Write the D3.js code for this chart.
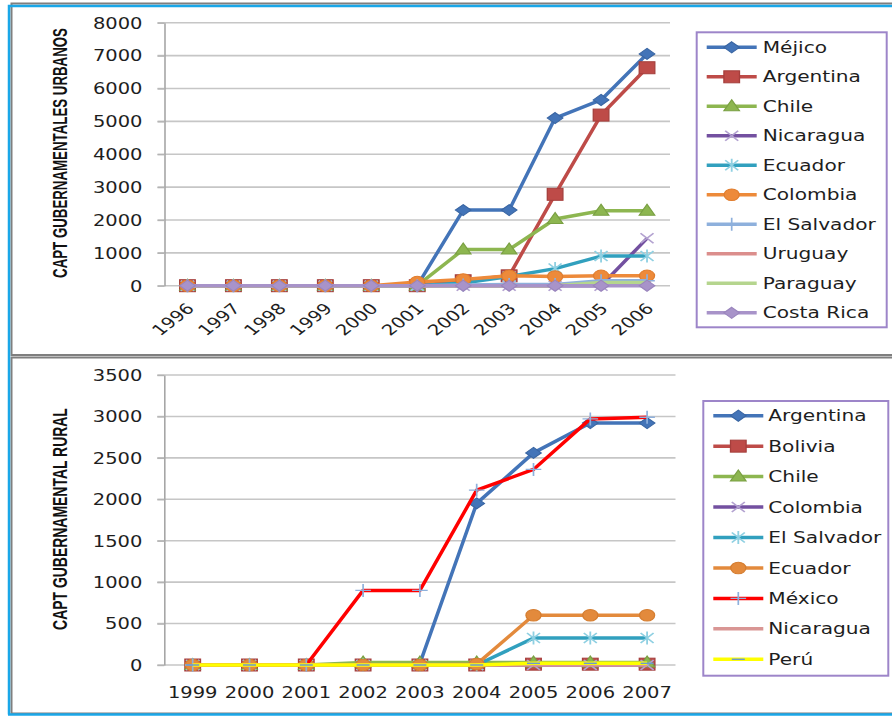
<!DOCTYPE html>
<html>
<head>
<meta charset="utf-8">
<script src="https://cdn.jsdelivr.net/npm/d3@7"></script>
<style>
  html, body { margin: 0; padding: 0; background: #fff; }
  svg { display: block; }
</style>
</head>
<body>
<svg id="chart" width="892" height="716"></svg>
<script>
// ---------- Urban government funding (top panel) ----------
const urbanYears = ["1996","1997","1998","1999","2000","2001","2002","2003","2004","2005","2006"];
const urbanTicks = [0,1000,2000,3000,4000,5000,6000,7000,8000];
const urbanMejico     = [0,0,0,0,0,0,2300,2300,5100,5650,7050];
const urbanArgentina  = [0,0,0,0,0,0,150,300,2780,5190,6630];
const urbanChile      = [0,0,0,0,0,0,1100,1100,2030,2280,2280];
const urbanNicaragua  = [0,0,0,0,0,0,0,0,0,0,1440];
const urbanEcuador    = [0,0,0,0,0,0,80,280,520,900,900];
const urbanColombia   = [0,0,0,0,0,110,190,300,280,300,300];
const urbanElSalvador = [0,0,0,0,0,0,20,40,40,150,150];
const urbanUruguay    = [0,0,0,0,0,0,0,0,0,60,60];
const urbanParaguay   = [0,0,0,0,0,0,0,0,0,100,100];
const urbanCostaRica  = [0,0,0,0,0,0,0,0,0,0,0];

// ---------- Rural government funding (bottom panel) ----------
const ruralYears = ["1999","2000","2001","2002","2003","2004","2005","2006","2007"];
const ruralTicks = [0,500,1000,1500,2000,2500,3000,3500];
const ruralArgentina  = [0,0,0,0,20,1950,2560,2920,2920];
const ruralBolivia    = [0,0,0,0,0,0,10,10,10];
const ruralChile      = [0,0,0,30,30,30,30,30,30];
const ruralColombia   = [0,0,0,0,0,0,0,0,0];
const ruralElSalvador = [0,0,0,0,0,0,325,325,325];
const ruralEcuador    = [0,0,0,0,0,10,600,600,600];
const ruralMexico     = [0,0,0,900,900,2110,2360,2970,2990];
const ruralNicaragua  = [0,0,0,0,0,0,0,0,0];
const ruralPeru       = [0,0,0,0,0,0,20,20,20];

// Glyphs and markers are drawn wider than tall
const SX = 1.3;
const FONT = "'DejaVu Sans', Verdana, sans-serif";

const urbanSeries = [
  { name: "Méjico",      values: urbanMejico,     color: "#4374b8", marker: "diamond",  mfill: "#4374b8", mstroke: "#3a66a3" },
  { name: "Argentina",   values: urbanArgentina,  color: "#be4b48", marker: "square",   mfill: "#be4b48", mstroke: "#a53f3c" },
  { name: "Chile",       values: urbanChile,      color: "#8db650", marker: "triangle", mfill: "#8db650", mstroke: "#7aa043" },
  { name: "Nicaragua",   values: urbanNicaragua,  color: "#7350a0", marker: "x",        mfill: "none",    mstroke: "#b3a2d0" },
  { name: "Ecuador",     values: urbanEcuador,    color: "#31a0be", marker: "star",     mfill: "none",    mstroke: "#8fd0e2" },
  { name: "Colombia",    values: urbanColombia,   color: "#ed8a3a", marker: "circle",   mfill: "#ed8a3a", mstroke: "#e07d2e" },
  { name: "El Salvador", values: urbanElSalvador, color: "#8eb0dc", marker: "plus",     mfill: "none",    mstroke: "#8eb0dc" },
  { name: "Uruguay",     values: urbanUruguay,    color: "#db8e8c", marker: null },
  { name: "Paraguay",    values: urbanParaguay,   color: "#b5d58e", marker: null },
  { name: "Costa Rica",  values: urbanCostaRica,  color: "#a893c9", marker: "diamond",  mfill: "#a893c9", mstroke: "#9a85bd" }
];

const ruralSeries = [
  { name: "Argentina",   values: ruralArgentina,  color: "#4374b8", marker: "diamond",  mfill: "#4374b8", mstroke: "#3a66a3" },
  { name: "Bolivia",     values: ruralBolivia,    color: "#be4b48", marker: "square",   mfill: "#be4b48", mstroke: "#a53f3c" },
  { name: "Chile",       values: ruralChile,      color: "#8db650", marker: "triangle", mfill: "#8db650", mstroke: "#7aa043" },
  { name: "Colombia",    values: ruralColombia,   color: "#7350a0", marker: "x",        mfill: "none",    mstroke: "#b3a2d0" },
  { name: "El Salvador", values: ruralElSalvador, color: "#31a0be", marker: "star",     mfill: "none",    mstroke: "#8fd0e2" },
  { name: "Ecuador",     values: ruralEcuador,    color: "#e38a3c", marker: "circle",   mfill: "#e38a3c", mstroke: "#d57d30" },
  { name: "México",      values: ruralMexico,     color: "#ff0000", marker: "plus",     mfill: "none",    mstroke: "#8eb0dc" },
  { name: "Nicaragua",   values: ruralNicaragua,  color: "#d99694", marker: null },
  { name: "Perú",        values: ruralPeru,       color: "#ffff00", marker: "dash",     mfill: "none",    mstroke: "#6a9ad0" }
];

const svg = d3.select("#chart");

// ---------- frames ----------
svg.append("rect").attr("x", 11.5).attr("y", 3.5).attr("width", 900).attr("height", 351.5)
  .attr("fill", "none").attr("stroke", "#7f7f7f").attr("stroke-width", 2);
svg.append("rect").attr("x", 11.5).attr("y", 357.5).attr("width", 900).attr("height", 356)
  .attr("fill", "none").attr("stroke", "#7f7f7f").attr("stroke-width", 2);
svg.append("path").attr("d", "M9,714.5V6H900").attr("fill", "none")
  .attr("stroke", "#1aa7e8").attr("stroke-width", 2.5);
svg.append("path").attr("d", "M8,714.5H900").attr("fill", "none")
  .attr("stroke", "#1aa7e8").attr("stroke-width", 2.5);

function drawMarker(g, kind, fill, stroke) {
  switch (kind) {
    case "diamond":
      g.append("path").attr("d", "M0,-5.5L6,0L0,5.5L-6,0Z").attr("fill", fill).attr("stroke", stroke).attr("stroke-width", 1); break;
    case "square":
      g.append("rect").attr("x", -6).attr("y", -6).attr("width", 12).attr("height", 12).attr("fill", fill).attr("stroke", stroke).attr("stroke-width", 1); break;
    case "triangle":
      g.append("path").attr("d", "M0,-6.5L6,4.5L-6,4.5Z").attr("fill", fill).attr("stroke", stroke).attr("stroke-width", 1); break;
    case "circle":
      g.append("circle").attr("r", 5.8).attr("fill", fill).attr("stroke", stroke).attr("stroke-width", 1); break;
    case "x":
      g.append("path").attr("d", "M-5,-5L5,5M-5,5L5,-5").attr("fill", "none").attr("stroke", stroke).attr("stroke-width", 1.4); break;
    case "star":
      g.append("path").attr("d", "M-5,-5L5,5M-5,5L5,-5M0,-6.5V6.5").attr("fill", "none").attr("stroke", stroke).attr("stroke-width", 1.4); break;
    case "plus":
      g.append("path").attr("d", "M-6,0H6M0,-6.5V6.5").attr("fill", "none").attr("stroke", stroke).attr("stroke-width", 1.3); break;
    case "dash":
      g.append("path").attr("d", "M-5,0H5").attr("fill", "none").attr("stroke", stroke).attr("stroke-width", 1.5); break;
  }
}

function drawPanel(cfg) {
  const x = d3.scaleBand().domain(cfg.years).range([cfg.x0, cfg.x1]).padding(0);
  const y = d3.scaleLinear().domain([0, cfg.max]).range([cfg.yBottom, cfg.yTop]);
  const cx = d => x(d) + x.bandwidth() / 2;
  const g = svg.append("g");

  // horizontal gridlines
  g.append("g").selectAll("line").data(cfg.ticks).join("line")
    .attr("x1", cfg.x0 - 7).attr("x2", cfg.x1)
    .attr("y1", d => y(d)).attr("y2", d => y(d))
    .attr("stroke", "#c6c6c6").attr("stroke-width", 1.6);

  // y axis
  const yAxis = g.append("g").attr("transform", `translate(${cfg.x0},0)`)
    .call(d3.axisLeft(y).tickValues(cfg.ticks).tickFormat(d3.format("d"))
      .tickSize(7).tickSizeOuter(0).tickPadding(15));
  yAxis.select(".domain").attr("stroke", "#a6a6a6").attr("stroke-width", 1.6);
  yAxis.selectAll(".tick line").attr("stroke", "#b4b4b4").attr("stroke-width", 1.4);
  yAxis.selectAll(".tick text")
    .attr("x", -22 / SX).attr("dy", "0.36em")
    .attr("transform", `scale(${SX},1)`)
    .style("font-family", FONT).style("font-size", "15px").attr("fill", "#1e1e1e");

  // x axis labels
  const xAxis = g.append("g").attr("transform", `translate(0,${cfg.yBottom})`)
    .call(d3.axisBottom(x).tickSize(0).tickSizeOuter(0));
  xAxis.select(".domain").remove();
  const xt = xAxis.selectAll(".tick text")
    .style("font-family", FONT).style("font-size", "15px").attr("fill", "#1e1e1e");
  if (cfg.rotate) {
    xt.attr("x", 0).attr("y", 0).attr("dy", "0.35em").attr("text-anchor", "end")
      .attr("transform", `translate(3,20) scale(${SX},1) rotate(-45)`);
  } else {
    xt.attr("x", 0).attr("y", 0).attr("dy", 0).attr("text-anchor", "middle")
      .attr("transform", `translate(0,33) scale(${SX},1)`);
  }

  // y axis title: condensed bold caps, squeezed to the plot height
  const title = g.append("text")
    .attr("text-anchor", "middle").attr("dy", "0.36em")
    .style("font-family", "'Liberation Sans', Arial, sans-serif").style("font-weight", "bold")
    .style("font-size", "21px").attr("fill", "#111")
    .text(cfg.title);
  const natural = title.node().getComputedTextLength();
  title.attr("transform",
    `translate(${cfg.titleX},${cfg.titleY}) rotate(-90) scale(${cfg.titleLen / natural},1)`);

  // series lines and markers
  const line = d3.line().x((d, i) => cx(cfg.years[i])).y(d => y(d));
  cfg.series.forEach(s => {
    const sg = g.append("g");
    sg.append("path").attr("d", line(s.values)).attr("fill", "none")
      .attr("stroke", s.color).attr("stroke-width", 3.5).attr("stroke-linejoin", "round");
    if (s.marker) {
      s.values.forEach((v, i) => {
        const mg = sg.append("g").attr("transform", `translate(${cx(cfg.years[i])},${y(v)}) scale(${SX},1)`);
        drawMarker(mg, s.marker, s.mfill, s.mstroke);
      });
    }
  });

  // legend
  const L = cfg.legend;
  g.append("rect").attr("x", L.x).attr("y", L.y).attr("width", L.w).attr("height", L.h)
    .attr("fill", "#fff").attr("stroke", "#9d85c9").attr("stroke-width", 2);
  const items = g.append("g").selectAll("g").data(cfg.series).join("g")
    .attr("transform", (d, i) => `translate(0,${L.first + i * L.step})`);
  items.append("line").attr("x1", L.lineX).attr("x2", L.lineX + 50)
    .attr("stroke", d => d.color).attr("stroke-width", 3.5);
  items.each(function (d) {
    if (d.marker) {
      const mg = d3.select(this).append("g").attr("transform", `translate(${L.lineX + 25},0) scale(${SX},1)`);
      drawMarker(mg, d.marker, d.mfill, d.mstroke);
    }
  });
  items.append("text")
    .attr("transform", `translate(${L.textX},0) scale(${SX},1)`)
    .attr("dy", "0.36em")
    .style("font-family", FONT).style("font-size", "15.5px").attr("fill", "#1e1e1e")
    .text(d => d.name);
}

drawPanel({
  years: urbanYears, ticks: urbanTicks, max: 8000, series: urbanSeries,
  x0: 164.5, x1: 670, yTop: 22.7, yBottom: 285.7, rotate: true,
  title: "CAPT GUBERNAMENTALES URBANOS", titleX: 59, titleY: 153, titleLen: 250,
  legend: { x: 696.7, y: 32.3, w: 190, h: 295, first: 47.3, step: 29.5, lineX: 706.7, textX: 762.7 }
});

drawPanel({
  years: ruralYears, ticks: ruralTicks, max: 3500, series: ruralSeries,
  x0: 164.3, x1: 675.5, yTop: 375, yBottom: 665, rotate: false,
  title: "CAPT GUBERNAMENTAL RURAL", titleX: 59, titleY: 519, titleLen: 222,
  legend: { x: 703.3, y: 401, w: 185, h: 274.7, first: 415.7, step: 30.45, lineX: 713.3, textX: 768.3 }
});
</script>
</body>
</html>
